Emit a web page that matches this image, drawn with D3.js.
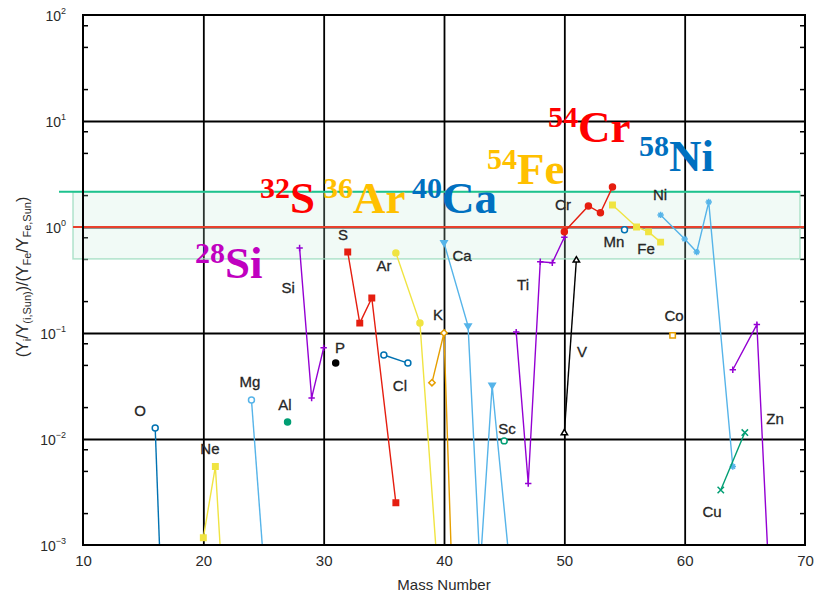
<!DOCTYPE html>
<html>
<head>
<meta charset="utf-8">
<script src="https://cdn.jsdelivr.net/npm/d3@7"></script>
<style>
  body { margin: 0; background: #fff; }
  svg { font-family: "Liberation Sans", Arial, sans-serif; }
  .iso { font-family: "Liberation Serif", "Times New Roman", serif; font-weight: bold; }
</style>
</head>
<body>
<svg id="chart" width="830" height="595"></svg>
<script>
// Abundance ratios (Y_i/Y_i,Sun)/(Y_Fe/Y_Fe,Sun) by mass number, one array per element
const O  = [[16, 0.0127], [17, 1.0e-5]];
const Ne = [[20, 0.00117], [21, 0.0055], [22, 7e-5]];
const Mg = [[24, 0.0233], [25, 7e-4]];
const Al = [[27, 0.0145]];
const Si = [[28, 0.634], [29, 0.0244], [30, 0.0724]];
const P  = [[31, 0.052]];
const S  = [[32, 0.58], [33, 0.124], [34, 0.214], [36, 0.0025]];
const Cl = [[35, 0.062], [37, 0.052]];
const Ar = [[36, 0.57], [38, 0.124], [40, 8e-5]];
const K  = [[39, 0.034], [40, 0.100], [41, 3.5e-5]];
const Ca = [[40, 0.708], [42, 0.116], [43, 6e-4], [44, 0.032], [46, 1.5e-4], [48, 1e-4]];
const Sc = [[45, 0.0096]];
const Ti = [[46, 0.102], [47, 0.0038], [48, 0.47], [49, 0.46], [50, 0.80]];
const V  = [[50, 0.0115], [51, 0.49]];
const Cr = [[50, 0.90], [52, 1.58], [53, 1.36], [54, 2.38]];
const Mn = [[55, 0.94]];
const Fe = [[54, 1.61], [56, 1.00], [57, 0.90], [58, 0.72]];
const Co = [[59, 0.095]];
const Ni = [[58, 1.30], [60, 0.77], [61, 0.58], [62, 1.72], [64, 0.0055]];
const Cu = [[63, 0.0033], [65, 0.0115]];
const Zn = [[64, 0.045], [66, 0.12], [67, 5e-4], [68, 1e-4]];

// element name labels, placed in (mass number, ratio) coordinates
const elementLabels = [
  ["O", 14.74, 0.0165], ["Ne", 20.55, 0.00721], ["Mg", 23.88, 0.031], ["Al", 26.79, 0.0188],
  ["Si", 27.04, 0.238], ["P", 31.36, 0.0647], ["S", 31.61, 0.753], ["Cl", 36.34, 0.0284],
  ["Ar", 35.01, 0.385], ["K", 39.5, 0.133], ["Ca", 41.5, 0.478], ["Sc", 45.24, 0.0111],
  ["Ti", 46.57, 0.255], ["V", 51.47, 0.0594], ["Cr", 49.89, 1.445], ["Mn", 54.13, 0.647],
  ["Fe", 56.79, 0.556], ["Co", 59.12, 0.130], ["Ni", 57.95, 1.80], ["Cu", 62.27, 0.00184],
  ["Zn", 67.51, 0.0139]
];

// highlighted isotopes: mass number, element, anchor (mass, ratio)
const isotopeLabels = [
  ["28", "Si", 19.31, 0.330], ["32", "S", 24.71, 1.355], ["36", "Ar", 29.95, 1.355],
  ["40", "Ca", 37.34, 1.355], ["54", "Fe", 43.57, 2.55], ["54", "Cr", 48.64, 6.34],
  ["58", "Ni", 56.21, 3.37]
];

const xTickValues = [10, 20, 30, 40, 50, 60, 70];
const yTickExponents = [-3, -2, -1, 0, 1, 2];
const minorMultiples = [2, 5, 8];
const solarRatio = 1;
const bandLow = 0.5;
const bandHigh = 2.15;

// ---- styling ----
const C = {
  purple: "#9400d3", green: "#009e73", sky: "#56b4e9", orange: "#e69f00",
  yellow: "#f0e442", blue: "#0072b2", red: "#e51e10", black: "#000000"
};
const series = [
  { data: O,  color: C.blue,   marker: "circleOpen" },
  { data: Ne, color: C.yellow, marker: "square" },
  { data: Mg, color: C.sky,    marker: "circleOpen" },
  { data: Al, color: C.green,  marker: "circle" },
  { data: Si, color: C.purple, marker: "plus" },
  { data: P,  color: C.black,  marker: "circle" },
  { data: S,  color: C.red,    marker: "square" },
  { data: Cl, color: C.blue,   marker: "circleOpen" },
  { data: Ar, color: C.yellow, marker: "circle" },
  { data: K,  color: C.orange, marker: "diamondOpen" },
  { data: Ca, color: C.sky,    marker: "triDown" },
  { data: Sc, color: C.green,  marker: "circleOpen" },
  { data: Ti, color: C.purple, marker: "plus" },
  { data: V,  color: C.black,  marker: "triOpen" },
  { data: Cr, color: C.red,    marker: "circle" },
  { data: Mn, color: C.blue,   marker: "circleOpen" },
  { data: Fe, color: C.yellow, marker: "square" },
  { data: Co, color: C.orange, marker: "squareOpen" },
  { data: Ni, color: C.sky,    marker: "star" },
  { data: Cu, color: C.green,  marker: "cross" },
  { data: Zn, color: C.purple, marker: "plus" }
];

const L = 83, R = 805, T = 15, B = 545;
const svg = d3.select("#chart");
const x = d3.scaleLinear().domain([10, 70]).range([L, R]);
const y = d3.scaleLog().domain([1e-3, 1e2]).range([B, T]);

svg.append("defs").append("clipPath").attr("id", "plotClip")
  .append("rect").attr("x", L).attr("y", T).attr("width", R - L).attr("height", B - T);

// grid lines
svg.append("g").attr("transform", `translate(0,${B})`)
  .call(d3.axisBottom(x).tickValues(xTickValues.slice(1, -1)).tickSize(-(B - T)).tickFormat(""))
  .call(g => g.select(".domain").remove())
  .call(g => g.selectAll("line").attr("stroke", "#000").attr("stroke-width", 1.8));
svg.append("g").attr("transform", `translate(${L},0)`)
  .call(d3.axisLeft(y).tickValues(yTickExponents.slice(1, -1).map(e => Math.pow(10, e)))
    .tickSize(-(R - L)).tickFormat(""))
  .call(g => g.select(".domain").remove())
  .call(g => g.selectAll("line").attr("stroke", "#000").attr("stroke-width", 1.8));

// minor ticks on both sides, pointing inward
const minorVals = [];
yTickExponents.slice(0, -1).forEach(e => minorMultiples.forEach(m => minorVals.push(m * Math.pow(10, e))));
svg.append("g").attr("transform", `translate(${L},0)`)
  .call(d3.axisLeft(y).tickValues(minorVals).tickSizeInner(-5).tickSizeOuter(0).tickFormat(""))
  .call(g => g.select(".domain").remove())
  .call(g => g.selectAll("line").attr("stroke", "#000").attr("stroke-width", 1.5));
svg.append("g").attr("transform", `translate(${R},0)`)
  .call(d3.axisRight(y).tickValues(minorVals).tickSizeInner(-5).tickSizeOuter(0).tickFormat(""))
  .call(g => g.select(".domain").remove())
  .call(g => g.selectAll("line").attr("stroke", "#000").attr("stroke-width", 1.5));

// agreement band and reference lines
svg.append("rect")
  .attr("x", 73).attr("width", 800 - 73)
  .attr("y", y(bandHigh)).attr("height", y(bandLow) - y(bandHigh))
  .attr("fill", "#bfe8d4").attr("fill-opacity", 0.22)
  .attr("stroke", "#9ddcbf").attr("stroke-opacity", 0.8).attr("stroke-width", 1.5);
svg.append("line").attr("x1", 73).attr("x2", R)
  .attr("y1", y(solarRatio)).attr("y2", y(solarRatio))
  .attr("stroke", "#e8402c").attr("stroke-width", 2);
svg.append("line").attr("x1", 59).attr("x2", 800)
  .attr("y1", y(bandHigh)).attr("y2", y(bandHigh))
  .attr("stroke", "#1ec28e").attr("stroke-width", 2);

// isotope lines and markers
const plot = svg.append("g").attr("clip-path", "url(#plotClip)");
const line = d3.line().x(d => x(d[0])).y(d => y(d[1]));

function markerPath(type) {
  const s = 3.2;
  switch (type) {
    case "plus": return `M${-s},0H${s}M0,${-s}V${s}`;
    case "cross": return `M${-s},${-s}L${s},${s}M${-s},${s}L${s},${-s}`;
    case "star": return `M${-s},0H${s}M0,${-s}V${s}M${-s*0.7},${-s*0.7}L${s*0.7},${s*0.7}M${-s*0.7},${s*0.7}L${s*0.7},${-s*0.7}`;
    case "square": case "squareOpen": return `M${-s*0.85},${-s*0.85}h${s*1.7}v${s*1.7}h${-s*1.7}Z`;
    case "diamondOpen": return `M0,${-s}L${s},0L0,${s}L${-s},0Z`;
    case "triDown": return `M${-s},${-s*0.7}H${s}L0,${s}Z`;
    case "triOpen": return `M0,${-s}L${s},${s*0.7}H${-s}Z`;
    default: return d3.symbol(d3.symbolCircle, 28)();
  }
}
const filled = { circle: true, square: true, triDown: true };
const stroked = { plus: true, cross: true, star: true };

series.forEach(sr => {
  if (sr.data.length > 1) {
    plot.append("path").datum(sr.data).attr("d", line)
      .attr("fill", "none").attr("stroke", sr.color).attr("stroke-width", 1.4);
  }
  plot.selectAll(null).data(sr.data.filter(d => d[1] >= 1e-3)).enter().append("path")
    .attr("transform", d => `translate(${x(d[0])},${y(d[1])})`)
    .attr("d", markerPath(sr.marker))
    .attr("fill", filled[sr.marker] ? sr.color : (stroked[sr.marker] ? "none" : "#fff"))
    .attr("stroke", sr.color).attr("stroke-width", 1.5);
});

// frame
svg.append("rect").attr("x", L).attr("y", T).attr("width", R - L).attr("height", B - T)
  .attr("fill", "none").attr("stroke", "#000").attr("stroke-width", 2);

// axis tick labels
svg.append("g").attr("transform", `translate(0,${B})`)
  .call(d3.axisBottom(x).tickValues(xTickValues).tickSize(0).tickPadding(10).tickFormat(d3.format("d")))
  .call(g => g.select(".domain").remove())
  .call(g => g.selectAll("text").attr("font-size", 15).attr("fill", "#2a2a2a")
    .style("font-family", "'Liberation Sans', Arial, sans-serif"));

const yLab = svg.append("g").attr("transform", `translate(${L},0)`)
  .call(d3.axisLeft(y).tickValues(yTickExponents.map(e => Math.pow(10, e))).tickSize(0).tickFormat(""))
  .call(g => g.select(".domain").remove());
yLab.selectAll(".tick").each(function (d) {
  const t = d3.select(this).append("text").attr("x", -17).attr("y", 5)
    .attr("text-anchor", "end").attr("fill", "#2a2a2a").attr("font-size", 14);
  t.append("tspan").text("10");
  t.append("tspan").attr("dy", -7).attr("font-size", 9).text(String(Math.round(Math.log10(d))).replace("-", "\u2212"));
});

svg.append("text").attr("x", x(40)).attr("y", 590).attr("text-anchor", "middle")
  .attr("font-size", 15).attr("fill", "#2a2a2a").text("Mass Number");

// y axis title with subscripts
const yTitle = svg.append("text")
  .attr("transform", "translate(28,277) rotate(-90)")
  .attr("text-anchor", "middle").attr("font-size", 16).attr("fill", "#2a2a2a");
[["(Y", 0], ["i", 1], ["/Y", 0], ["(i,Sun)", 1], [")/(Y", 0], ["Fe", 1], ["/Y", 0], ["Fe,Sun", 1], [")", 0]]
  .forEach(([s, sub], i, arr) => {
    const prevSub = i > 0 && arr[i - 1][1];
    const tsp = yTitle.append("tspan").text(s);
    if (sub) tsp.attr("font-size", 11).attr("dy", prevSub ? 0 : 3);
    else if (prevSub) tsp.attr("dy", -3);
  });

// element names
svg.append("g").selectAll("text").data(elementLabels).enter().append("text")
  .attr("x", d => x(d[1])).attr("y", d => y(d[2]))
  .attr("text-anchor", "middle").attr("font-size", 15).attr("fill", "#262626")
  .attr("stroke", "#262626").attr("stroke-width", 0.3)
  .text(d => d[0]);

// highlighted isotopes
const isoColor = { Si: "#c000c0", S: "#ff0000", Ar: "#ffc000", Ca: "#0070c0", Fe: "#ffc000", Cr: "#ff0000", Ni: "#0070c0" };
isotopeLabels.forEach(([mass, el, mx, my]) => {
  const t = svg.append("text").attr("class", "iso").attr("x", x(mx)).attr("y", y(my) - 15)
    .attr("fill", isoColor[el]);
  t.append("tspan").attr("font-size", 30).text(mass);
  t.append("tspan").attr("font-size", 45).attr("dy", 15).text(el);
});
</script>
</body>
</html>
